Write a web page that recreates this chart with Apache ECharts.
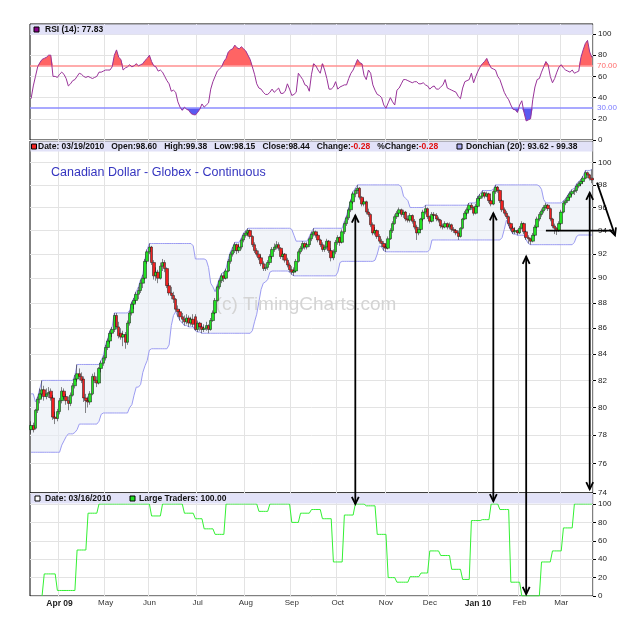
<!DOCTYPE html>
<html>
<head>
<meta charset="utf-8">
<title>Canadian Dollar - Globex - Continuous</title>
<script src="https://cdn.jsdelivr.net/npm/echarts@6/dist/echarts.min.js"></script>
<style>
html, body { margin: 0; padding: 0; background: #fff; }
#main { width: 625px; height: 623px; }
</style>
</head>
<body>
<div id="main"></div>
<script>
// ---- calendar ----
var firstDay = '2009-03-13', lastDay = '2010-03-19';
var holidays = ['2009-04-10', '2009-05-25', '2009-07-03', '2009-09-07', '2009-11-26',
                '2009-12-25', '2010-01-01', '2010-01-18', '2010-02-15'];
var monthKeys  = ['2009-04', '2009-05', '2009-06', '2009-07', '2009-08', '2009-09',
                  '2009-10', '2009-11', '2009-12', '2010-01', '2010-02', '2010-03'];
var monthNames = ['Apr 09', 'May', 'Jun', 'Jul', 'Aug', 'Sep', 'Oct', 'Nov', 'Dec', 'Jan 10', 'Feb', 'Mar'];
var boldMonths = ['Apr 09', 'Jan 10'];

// ---- daily prices ----
var opens = [
 78.4,78.7,78.5,79.8,80.6,81.0,81.3,80.8,81.0,81.2, 80.7,79.3,79.2,79.7,80.5,81.2,80.8,80.5,80.3,80.9,
 81.6,82.1,82.5,82.3,82.1,80.7,80.5,80.4,81.0,82.3, 82.0,81.8,82.9,83.3,83.7,84.5,85.0,85.6,85.9,87.0,
 86.1,85.6,85.3,85.5,84.9,86.4,87.2,87.9,88.2,88.7, 89.0,89.6,90.0,91.4,92.2,92.6,91.3,90.2,90.5,90.0,
 91.0,91.3,90.8,89.4,88.8,88.6,88.3,87.5,87.3,86.9, 86.7,86.5,86.8,86.4,86.7,86.9,85.9,86.4,86.1,85.9,
 86.0,86.2,85.9,86.6,87.2,88.2,89.3,89.8,90.2,90.0, 90.6,91.4,92.0,92.3,92.8,92.3,92.6,93.2,93.6,93.8,
 94.0,93.5,92.8,92.3,92.0,91.7,91.2,90.8,90.9,91.3, 91.8,92.4,92.6,92.8,92.5,91.8,92.0,91.5,91.1,90.7,
 90.5,90.6,91.4,92.2,92.5,92.9,92.6,92.8,93.3,93.7, 93.9,93.6,93.2,92.8,92.4,92.6,93.1,92.3,91.7,92.2,
 93.0,93.4,93.0,93.9,94.6,95.1,95.8,96.5,97.2,97.5, 97.7,96.9,96.3,96.5,95.6,95.4,94.5,93.8,94.0,93.5,
 93.1,92.9,92.6,92.5,93.3,94.0,94.6,95.2,95.5,95.8, 95.4,95.6,95.0,94.9,95.3,94.8,94.3,93.8,94.1,95.0,
 95.6,95.9,95.2,94.8,95.4,95.3,95.0,94.9,94.4,94.3, 94.6,94.3,94.5,94.1,94.0,93.8,93.5,94.2,95.0,95.5,
 95.8,96.2,96.0,95.5,96.1,96.8,97.0,97.3,97.0,97.2, 96.6,96.3,97.4,97.8,97.5,96.6,95.8,95.5,95.2,94.6,
 94.2,93.9,94.0,93.8,94.2,94.6,93.9,93.4,93.3,93.1, 93.6,94.3,95.0,95.4,95.7,96.0,96.2,95.9,95.0,94.4,
 94.2,94.0,94.6,95.6,96.4,96.6,96.9,97.2,97.4,97.5, 97.9,98.1,98.3,98.6,99.1,98.9,98.60
];
var highs = [
 79.0,78.9,79.9,80.8,81.4,82.0,81.6,81.4,81.5,81.4, 80.9,79.7,79.9,80.7,81.5,81.4,81.0,80.8,81.1,81.8,
 82.4,83.2,82.9,82.6,82.3,81.0,80.8,81.2,82.5,82.6, 82.3,83.0,83.5,83.9,84.7,85.2,85.8,86.1,87.2,87.2,
 86.5,86.0,85.8,85.7,86.6,87.4,88.1,88.4,88.9,89.3, 89.9,90.3,91.6,92.4,92.9,92.7,91.5,90.9,90.7,91.3,
 91.6,91.5,90.9,89.6,89.3,88.9,88.4,87.8,87.5,87.2, 87.0,87.1,87.0,86.9,87.1,87.1,86.6,86.5,86.3,86.3,
 86.5,86.3,86.8,87.4,88.4,89.5,90.0,90.4,90.5,90.8, 91.6,92.2,92.6,93.0,92.9,92.9,93.4,93.8,94.0,94.2,
 94.1,93.6,93.0,92.5,92.3,91.9,91.4,91.2,91.5,92.0, 92.6,92.9,93.1,93.0,92.6,92.3,92.1,91.7,91.3,91.0,
 90.9,91.6,92.4,92.7,93.1,93.0,93.0,93.5,93.9,94.2, 94.0,93.7,93.3,93.0,92.8,93.3,93.2,92.5,92.4,93.2,
 93.6,93.5,94.1,94.8,95.3,96.0,96.7,97.4,97.7,98.0, 97.8,97.0,96.8,96.6,95.9,95.5,94.7,94.3,94.1,93.7,
 93.3,93.1,92.9,93.5,94.2,94.8,95.4,95.7,96.0,95.9, 95.8,95.7,95.3,95.5,95.4,95.0,94.5,94.3,95.1,95.8,
 96.2,96.0,95.3,95.6,95.6,95.5,95.2,95.0,94.6,94.8, 94.7,94.7,94.6,94.3,94.1,94.0,94.3,95.1,95.7,96.0,
 96.4,96.4,96.1,96.3,97.0,97.2,97.5,97.4,97.4,97.3, 96.8,97.6,98.0,97.9,97.6,96.7,96.0,95.7,95.3,94.7,
 94.4,94.3,94.1,94.4,94.8,94.7,94.0,93.6,93.4,93.8, 94.5,95.2,95.6,95.9,96.2,96.4,96.3,96.0,95.1,94.6,
 94.3,94.8,95.8,96.6,96.8,97.1,97.4,97.6,97.7,98.1, 98.3,98.5,98.8,99.3,99.2,99.0,99.38
];
var lows = [
 78.1,78.2,78.4,79.6,80.3,80.7,80.5,80.6,80.7,80.5, 79.1,78.8,79.0,79.5,80.3,80.6,80.2,79.8,80.1,80.8,
 81.4,81.9,82.0,81.8,80.4,79.6,80.0,80.2,80.9,81.8, 81.5,81.7,82.6,83.1,83.5,84.3,84.8,85.3,85.7,85.9,
 85.2,85.1,84.6,84.4,84.7,86.2,87.0,87.5,88.0,88.3, 88.8,89.2,89.9,91.2,92.0,91.1,89.9,89.8,89.6,89.9,
 90.6,90.5,89.2,88.6,88.3,88.0,87.3,86.9,86.6,86.4, 86.2,86.3,86.1,86.2,86.1,85.8,85.7,85.8,85.6,85.7,
 85.8,85.6,85.8,86.5,87.1,88.1,89.1,89.6,89.7,89.9, 90.5,91.2,91.8,92.1,92.0,92.1,92.4,93.0,93.4,93.5,
 93.3,92.6,92.1,91.8,91.5,91.0,90.6,90.6,90.7,91.1, 91.6,92.2,92.4,92.3,91.6,91.5,91.3,90.9,90.5,90.3,
 90.2,90.5,91.3,92.0,92.3,92.4,92.4,92.6,93.1,93.5, 93.4,93.0,92.6,92.2,92.2,92.4,92.1,91.4,91.5,92.0,
 92.8,92.7,92.9,93.7,94.4,94.9,95.6,96.3,96.9,97.2, 96.7,96.1,96.1,95.4,95.2,94.3,93.6,93.6,93.3,92.9,
 92.6,92.3,92.2,92.4,93.2,93.8,94.5,95.0,95.3,95.2, 95.1,94.8,94.7,94.7,94.6,94.1,93.2,93.6,94.0,94.8,
 95.4,95.0,94.6,94.7,95.0,94.8,94.7,94.2,94.1,94.2, 94.1,94.1,93.9,93.8,93.6,93.2,93.4,94.1,94.9,95.3,
 95.6,95.8,95.3,95.4,96.0,96.6,96.8,96.8,96.9,96.4, 96.1,96.2,97.2,97.3,96.4,95.6,95.3,95.0,94.4,94.0,
 93.7,93.7,93.6,93.7,94.1,93.7,93.2,92.9,92.8,93.0, 93.5,94.2,94.8,95.2,95.5,95.8,95.7,94.8,94.2,93.7,
 93.62,93.9,94.5,95.5,96.2,96.4,96.7,97.0,97.1,97.3, 97.7,97.9,98.1,98.5,98.6,98.4,98.15
];
var closes = [
 78.7,78.4,79.8,80.6,81.0,81.3,80.8,81.0,81.1,80.7, 79.3,79.2,79.7,80.5,81.2,80.8,80.5,80.3,80.9,81.6,
 82.1,82.5,82.3,82.0,80.7,80.5,80.4,81.0,82.3,82.0, 81.8,82.9,83.3,83.7,84.5,85.0,85.6,85.9,87.0,86.1,
 85.4,85.3,85.5,84.9,86.4,87.2,87.9,88.2,88.7,89.0, 89.6,90.0,91.4,92.2,92.6,91.3,90.2,90.5,90.0,91.0,
 91.3,90.8,89.4,88.8,88.6,88.3,87.5,87.3,86.9,86.7, 86.5,86.8,86.4,86.7,86.3,85.9,86.4,86.1,85.9,86.0,
 86.2,85.9,86.6,87.2,88.2,89.3,89.8,90.2,90.0,90.6, 91.4,92.0,92.3,92.8,92.3,92.6,93.2,93.6,93.8,94.0,
 93.5,92.8,92.3,92.0,91.7,91.2,90.8,90.9,91.3,91.8, 92.4,92.6,92.8,92.5,91.8,92.0,91.5,91.1,90.7,90.5,
 90.6,91.4,92.2,92.5,92.9,92.6,92.8,93.3,93.7,93.9, 93.6,93.2,92.8,92.4,92.6,93.1,92.3,91.7,92.2,93.0,
 93.4,93.0,93.9,94.6,95.1,95.8,96.5,97.2,97.5,97.7, 96.9,96.3,96.5,95.6,95.4,94.5,93.8,94.0,93.5,93.1,
 92.9,92.6,92.5,93.3,94.0,94.6,95.2,95.5,95.8,95.4, 95.6,95.0,94.9,95.3,94.8,94.3,93.8,94.1,95.0,95.6,
 95.9,95.2,94.8,95.4,95.3,95.0,94.9,94.4,94.3,94.6, 94.3,94.5,94.1,94.0,93.8,93.5,94.2,95.0,95.5,95.8,
 96.2,96.0,95.5,96.1,96.8,97.0,97.3,97.0,97.2,96.6, 96.3,97.4,97.8,97.5,96.6,95.8,95.5,95.2,94.6,94.2,
 93.9,94.0,93.8,94.2,94.6,93.9,93.4,93.3,93.1,93.6, 94.3,95.0,95.4,95.7,96.0,96.2,95.9,95.0,94.4,94.2,
 94.0,94.6,95.6,96.4,96.6,96.9,97.2,97.4,97.5,97.9, 98.1,98.3,98.6,99.1,98.9,98.6,98.44
];
// highs/lows of the 19 sessions before the first bar (only feed the Donchian channel)
var preHighs = [80.6,81.0,80.4,79.8,79.5,79.2,78.9,78.6,78.3,78.2,78.0,77.9,78.3,78.6,78.8,79.0,78.9,78.8,79.0];
var preLows  = [79.4,79.6,79.1,78.6,78.3,78.0,77.8,77.6,77.5,77.4,77.2,77.0,76.9,76.8,77.3,77.6,77.9,78.1,78.2];

// ---- RSI(14) as drawn ----
var rsi = [
 39,51,60,69,73,76,77,78,80,80, 60,60,59,62,64,62,58,51,53,56,
 57,60,63,62,60,59,60,59,58,59, 60,64,64,65,66,66,66,69,80,85,
 78,76,66,68,69,71,69,70,72,70, 71,72,75,77,80,74,70,69,65,66,
 64,60,56,53,46,47,45,36,31,28, 31,29,28,25,24,23.6,26,29,34,31,
 33,35,48,55,60,65,67,69,74,77, 83,85,86,89.5,87,86,88,86,84,80,
 76,69,62,53,49,48,45,43,43,45, 48,45,47,49,44,44,46,53,48,42,
 43,45,63,60,57,52,51,46,62,72, 70,66,63,72,66,58,48,48,50,55,
 48,50,51,52,52,58,63,66,71,76, 73,72,61,57,66,63,52,47,43,42,
 40,33,30,35,40,36,33,47,49,53, 57,57,56,55,54,55,55,53,53,54,
 52,51,48,50,51,48,48,50,52,57, 49,48,47,46,45,41,39,49,55,56,
 57,63,54,60,65,69,72,74,77,72, 68,67,66,60,57,51,45,41,38,33,
 29,28.5,26,33,37,26,18,19,20,38, 50,57,58,64,69,74,71,60,54,58,
 64,69,71,68,66,65,64,66,63,64, 65,78,85,91,94,83,77.83
];

// ---- Large Traders index as drawn ----
var traders = [
 null,null,null,null,null,0,24,24,24,24, 24,24,6,6,6,6,6,6,6,6,
 6,50,50,50,50,50,90,90,90,90, 90,100,100,100,100,100,100,100,100,100,
 100,100,100,100,100,100,100,100,100,100, 100,100,100,100,100,87,87,87,87,87,
 100,100,100,100,100,100,100,100,100,100, 90,90,90,90,90,84,84,84,84,73,
 73,73,73,73,67,67,67,67,67,100, 100,100,100,100,100,100,100,100,100,100,
 100,100,100,100,92,92,92,92,92,100, 100,100,100,100,100,100,100,100,100,80,
 80,80,80,90,90,90,90,90,94,94, 94,94,94,84,84,84,84,84,37,37,
 37,37,37,88,88,88,88,88,100,100, 100,100,100,98,98,98,98,98,67,67,
 67,67,67,20,20,20,20,15,15,15, 15,15,15,21,21,21,21,21,25,25,
 25,25,49,49,49,49,49,44,44,44, 44,44,29,29,29,29,29,18,18,18,
 18,82,82,82,82,82,83,83,83,83, 100,100,100,100,94,94,94,94,94,15,
 15,15,15,15,0,0,0,0,0,0, 0,0,0,37,37,37,37,37,49,49,
 49,49,49,74,74,74,74,74,100,100, 100,100,100,100,100,100,100
];

var priceTicks = [74, 76, 78, 80, 82, 84, 86, 88, 90, 92, 94, 96, 98, 100];
var pctTicks = [0, 20, 40, 60, 80, 100];

// ---- derived ----
var dates = [];
(function () {
  var d = new Date(firstDay + 'T00:00:00Z'), end = new Date(lastDay + 'T00:00:00Z');
  while (d <= end) {
    var s = d.toISOString().slice(0, 10), wd = d.getUTCDay();
    if (wd !== 0 && wd !== 6 && holidays.indexOf(s) < 0) dates.push(s);
    d.setUTCDate(d.getUTCDate() + 1);
  }
})();
function isMonthStart(i) {
  return i > 0 && dates[i].slice(0, 7) !== dates[i - 1].slice(0, 7);
}
function monthLabel(i) {
  var k = monthKeys.indexOf(dates[i].slice(0, 7));
  return k < 0 ? '' : monthNames[k];
}

var lg = Math.log;
var candles = closes.map(function (c, i) {
  return [lg(opens[i]), lg(c), lg(lows[i]), lg(highs[i])];
});
var allHi = preHighs.concat(highs), allLo = preLows.concat(lows), P = preHighs.length;
var dcLow = [], dcSpan = [];
for (var i = 0; i < closes.length; i++) {
  var hi = -Infinity, lo = Infinity;
  for (var j = i + P - 19; j <= i + P; j++) {
    hi = Math.max(hi, allHi[j]); lo = Math.min(lo, allLo[j]);
  }
  dcLow.push(lg(lo)); dcSpan.push(lg(hi) - lg(lo));
}
var obBase = rsi.map(function () { return 70; });
var obPart = rsi.map(function (v) { return Math.max(v - 70, 0); });
var osBase = rsi.map(function (v) { return Math.min(v, 30); });
var osPart = rsi.map(function (v) { return 30 - Math.min(v, 30); });

// ---- layout ----
var L = 30, R = 593;
var g0 = { top: 24, bottom: 140 }, g1 = { top: 141, bottom: 493 }, g2 = { top: 493, bottom: 596 };
var headFill = '#e2e2f8';
var grid = '#e3e3e3';
var bold8 = "bold 8.5px 'Liberation Sans', Arial, sans-serif";

function xAxis(g, labels) {
  return {
    gridIndex: g, type: 'category', data: dates, boundaryGap: true,
    axisLine: { show: false }, axisTick: { show: false },
    axisLabel: labels ? {
      interval: function (i) { return isMonthStart(i); },
      formatter: function (v, i) {
        var t = monthLabel(i);
        return boldMonths.indexOf(t) >= 0 ? '{b|' + t + '}' : t;
      },
      fontSize: 8, color: '#333', margin: 3, fontFamily: 'Liberation Sans',
      rich: { b: { fontWeight: 'bold', fontSize: 8.5, color: '#222', fontFamily: 'Liberation Sans' } }
    } : { show: false },
    splitLine: { show: true, interval: function (i) { return isMonthStart(i); }, lineStyle: { color: grid, width: 1 } }
  };
}
function yAxis(g, min, max, ticks, fmt) {
  return {
    gridIndex: g, type: 'value', position: 'right', min: min, max: max,
    axisLine: { show: false },
    axisTick: { show: true, length: 3, lineStyle: { color: '#000' }, customValues: ticks },
    axisLabel: { customValues: ticks, formatter: fmt, fontSize: 8, color: '#222', margin: 5, fontFamily: 'Liberation Sans' },
    splitLine: { show: true, lineStyle: { color: grid, width: 1 } }
  };
}
function gridBox(g) {
  return { left: L, right: 625 - R, top: g.top, height: g.bottom - g.top, show: true,
           backgroundColor: '#fff', borderColor: '#000', borderWidth: 1 };
}
function header(g, id) {
  return { type: 'rect', id: id, z: 50, shape: { x: L + 0.5, y: g.top + 0.5, width: R - L - 1, height: 10 },
           style: { fill: headFill } };
}
function square(id, x, y, fill) {
  return { type: 'rect', id: id, z: 51, shape: { x: x, y: y, width: 5, height: 5 },
           style: { fill: fill, stroke: '#000', lineWidth: 1 } };
}
function label(id, x, y, text, rich) {
  return { type: 'text', id: id, z: 51, x: x, y: y,
           style: { text: text, font: bold8, fill: '#111', verticalAlign: 'middle', rich: rich } };
}

var chart = echarts.init(document.getElementById('main'));
chart.setOption({
  animation: false,
  backgroundColor: '#fff',
  grid: [gridBox(g0), gridBox(g1), gridBox(g2)],
  xAxis: [xAxis(0, false), xAxis(1, false), xAxis(2, true)],
  yAxis: [
    yAxis(0, 0, (g0.bottom - g0.top) / 1.06, pctTicks, null),
    yAxis(1, lg(74), lg(102), priceTicks.map(lg), function (v) { return Math.round(Math.exp(v)); }),
    yAxis(2, 0, (g2.bottom - g2.top) / 0.92, pctTicks, null)
  ],
  series: [
    { type: 'line', xAxisIndex: 0, yAxisIndex: 0, data: obBase, stack: 'ob', symbol: 'none',
      lineStyle: { opacity: 0 }, silent: true, z: 1 },
    { type: 'line', xAxisIndex: 0, yAxisIndex: 0, data: obPart, stack: 'ob', symbol: 'none',
      lineStyle: { opacity: 0 }, areaStyle: { color: '#ff6464', opacity: 1 }, silent: true, z: 1 },
    { type: 'line', xAxisIndex: 0, yAxisIndex: 0, data: osBase, stack: 'os', symbol: 'none',
      lineStyle: { opacity: 0 }, silent: true, z: 1 },
    { type: 'line', xAxisIndex: 0, yAxisIndex: 0, data: osPart, stack: 'os', symbol: 'none',
      lineStyle: { opacity: 0 }, areaStyle: { color: '#5a5af0', opacity: 1 }, silent: true, z: 1 },
    { type: 'line', name: 'RSI', xAxisIndex: 0, yAxisIndex: 0, data: rsi, symbol: 'none',
      lineStyle: { color: '#993399', width: 1 }, z: 20,
      markLine: {
        silent: true, symbol: ['none', 'none'], animation: false,
        data: [
          { yAxis: 70, lineStyle: { color: '#ff9090', type: 'solid', width: 1.5 },
            label: { formatter: '70.00', color: '#ff6a6a', position: 'end', distance: 4, fontSize: 8, fontFamily: 'Liberation Sans' } },
          { yAxis: 30, lineStyle: { color: '#8c8cff', type: 'solid', width: 1.5 },
            label: { formatter: '30.00', color: '#7a7aff', position: 'end', distance: 4, fontSize: 8, fontFamily: 'Liberation Sans' } }
        ]
      } },
    { type: 'line', xAxisIndex: 1, yAxisIndex: 1, data: dcLow, stack: 'dc', symbol: 'none',
      lineStyle: { color: '#9c9cf2', width: 1 }, silent: true, z: 1 },
    { type: 'line', xAxisIndex: 1, yAxisIndex: 1, data: dcSpan, stack: 'dc', symbol: 'none',
      lineStyle: { color: '#9c9cf2', width: 1 }, areaStyle: { color: '#e8edf5', opacity: 0.6 }, silent: true, z: 1 },
    { type: 'candlestick', xAxisIndex: 1, yAxisIndex: 1, data: candles, barWidth: 3, z: 20,
      itemStyle: { color: '#22e022', color0: '#f02020', borderColor: '#111', borderColor0: '#111', borderWidth: 0.5 } },
    { type: 'line', xAxisIndex: 2, yAxisIndex: 2, data: traders, symbol: 'none',
      lineStyle: { color: '#33f033', width: 1 }, z: 20 }
  ],
  graphic: { elements: [
    { type: 'text', id: 'wm', z: 10, x: 306, y: 305,
      style: { text: '(c) TimingCharts.com', font: "19px 'Liberation Sans', Arial, sans-serif", fill: '#d4d4d4',
               align: 'center', verticalAlign: 'middle' } },
    header(g0, 'h0'), header(g1, 'h1'), header(g2, 'h2'),
    square('s0', 34, 27, '#880088'),
    label('t0', 45, 30, 'RSI (14): 77.83'),
    square('s1', 31.5, 144, '#ee2222'),
    label('t1', 38, 147, '{k|Date: 03/19/2010   Open:98.60   High:99.38   Low:98.15   Close:98.44   Change:}{r|-0.28}{k|   %Change:}{r|-0.28}',
          { k: { font: bold8, fill: '#111' }, r: { font: bold8, fill: '#e01010' } }),
    square('s2', 457, 144, '#a8a8ee'),
    label('t2', 466, 147, 'Donchian (20): 93.62 - 99.38'),
    { type: 'text', id: 'title', z: 51, x: 51, y: 173,
      style: { text: 'Canadian Dollar - Globex - Continuous', font: "12.5px 'Liberation Sans', Arial, sans-serif",
               fill: '#3535c0', verticalAlign: 'middle' } },
    square('s3', 35, 496, '#ffffff'),
    label('t3', 45, 499, 'Date: 03/16/2010'),
    square('s4', 130, 496, '#22dd22'),
    label('t4', 139, 499, 'Large Traders: 100.00')
  ] }
});

// ---- hand-drawn annotation arrows, placed in data space ----
var mainSys = { xAxisIndex: 1, yAxisIndex: 1 }, lowSys = { xAxisIndex: 2, yAxisIndex: 2 };
function px(sys, idx, v) { return chart.convertToPixel(sys, [idx, v]); }
var arrowEls = [], n = 0;
function seg(a, b) {
  arrowEls.push({ type: 'line', id: 'ar' + (n++), z: 60,
    shape: { x1: a[0], y1: a[1], x2: b[0], y2: b[1] },
    style: { stroke: '#000', lineWidth: 1.8 } });
}
function head(tip, from) {
  var ang = Math.atan2(tip[1] - from[1], tip[0] - from[0]), len = 8, a = 0.45;
  arrowEls.push({ type: 'polyline', id: 'ar' + (n++), z: 60,
    shape: { points: [
      [tip[0] - len * Math.cos(ang - a), tip[1] - len * Math.sin(ang - a)], tip,
      [tip[0] - len * Math.cos(ang + a), tip[1] - len * Math.sin(ang + a)]] },
    style: { stroke: '#000', fill: 'none', lineWidth: 1.8 } });
}
function twoWay(a, b) { seg(a, b); head(a, b); head(b, a); }

var x1 = px(mainSys, 148.4, lg(95.3)), x1b = px(lowSys, 148.4, 100);
twoWay(x1, [x1[0], x1b[1]]);
var x2 = px(mainSys, 210.5, lg(95.5)), x2b = px(lowSys, 210.5, 103);
twoWay(x2, [x2[0], x2b[1]]);
var x3 = px(mainSys, 225.6, lg(91.8)), x3b = px(lowSys, 225.6, 2);
twoWay(x3, [x3[0], x3b[1]]);
var x4 = px(mainSys, 254.6, lg(97.3)), x4b = px(mainSys, 254.6, lg(74.25));
twoWay(x4, [x4[0], x4b[1]]);
var h1 = px(mainSys, 235, lg(94.0));
seg(h1, [R + 20, h1[1]]);
var dA = px(mainSys, 256, lg(98.2)), dB = px(mainSys, 256, lg(93.6));
var dStart = [R + 4, dA[1]], dEnd = [R + 22, dB[1]];
seg(dStart, dEnd); head(dEnd, dStart);

chart.setOption({ graphic: { elements: arrowEls } });
</script>
</body>
</html>
